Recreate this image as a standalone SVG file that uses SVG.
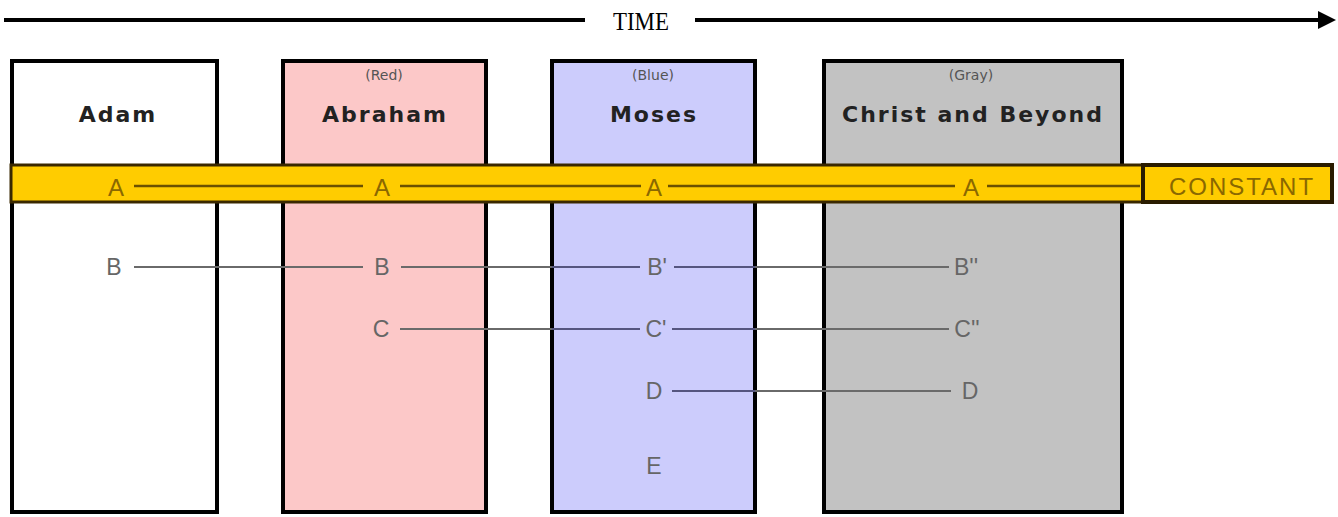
<svg xmlns="http://www.w3.org/2000/svg" width="1338" height="517" viewBox="0 0 1338 517">
<style>
.box{stroke:#000;stroke-width:4}
.title{font-family:"DejaVu Sans",Verdana,sans-serif;font-weight:bold;font-size:22px;fill:#222;text-anchor:middle;letter-spacing:2px}
.sub{font-family:"DejaVu Sans",Verdana,sans-serif;font-size:14px;fill:#555;text-anchor:middle}
.lbl{font-family:"Liberation Sans",Arial,sans-serif;font-size:23px;fill:#666;text-anchor:middle;dominant-baseline:central}
.albl{font-family:"Liberation Sans",Arial,sans-serif;font-size:24px;fill:#8a6800;text-anchor:middle;dominant-baseline:central}
.conn{stroke:#6a6a6a;stroke-width:2;fill:none}
.bconn{stroke:#55557f;stroke-width:2;fill:none}
.aconn{stroke:#6b5000;stroke-width:2.5;fill:none}
</style>
<g id="time">
<line x1="4" y1="20" x2="585" y2="20" stroke="#000" stroke-width="4"/>
<line x1="695" y1="20" x2="1324" y2="20" stroke="#000" stroke-width="4"/>
<path d="M1318,11 L1336,20 L1318,29 z" fill="#000"/>
<text x="641" y="30" font-family="'Liberation Serif','Times New Roman',serif" font-size="25" text-anchor="middle" fill="#000" textLength="56" lengthAdjust="spacingAndGlyphs">TIME</text>
</g>
<g id="adam"><rect class="box" x="12" y="61" width="205" height="451" fill="#fff"/>
<text class="title" x="118" y="122">Adam</text></g>
<g id="abraham"><rect class="box" x="283" y="61" width="203" height="451" fill="#fcc8c8"/>
<text class="sub" x="384" y="80">(Red)</text>
<text class="title" x="385" y="122">Abraham</text></g>
<g id="moses"><rect class="box" x="552" y="61" width="203" height="451" fill="#ccccfc"/>
<text class="sub" x="653" y="80">(Blue)</text>
<text class="title" x="654" y="122">Moses</text></g>
<g id="christ"><rect class="box" x="824" y="61" width="298" height="451" fill="#c2c2c2"/>
<text class="sub" x="971" y="80">(Gray)</text>
<text class="title" x="973" y="122">Christ and Beyond</text></g>
<g id="constant-band"><rect x="11" y="165" width="1132" height="37" fill="#ffcc00" stroke="#3a2800" stroke-width="3"/>
<rect x="1143" y="165" width="189" height="37" fill="#ffcc00" stroke="#2a1c00" stroke-width="4"/>
<text class="albl" x="1242" y="186" font-size="27" letter-spacing="2">CONSTANT</text></g>
<g id="connectors">
<path class="aconn" d="M134,186 H363 M400,186 H641 M668,186 H955 M987,186 H1140"/>
<path class="conn" d="M134,267 H363 M401,267 H552 M755,267 H949"/>
<path class="bconn" d="M552,267 H640 M674,267 H755"/>
<path class="conn" d="M400,329 H552 M755,329 H949"/>
<path class="bconn" d="M552,329 H640 M672,329 H755"/>
<path class="bconn" d="M672,391 H755"/>
<path class="conn" d="M755,391 H951"/>
</g>
<g id="labels">
<text class="albl" x="116" y="187">A</text>
<text class="albl" x="382" y="187">A</text>
<text class="albl" x="654" y="187">A</text>
<text class="albl" x="971" y="187">A</text>
<text class="lbl" x="114" y="267">B</text>
<text class="lbl" x="382" y="267">B</text>
<text class="lbl" x="657" y="267">B'</text>
<text class="lbl" x="966" y="267">B''</text>
<text class="lbl" x="381" y="329">C</text>
<text class="lbl" x="656" y="329">C'</text>
<text class="lbl" x="967" y="329">C''</text>
<text class="lbl" x="654" y="391">D</text>
<text class="lbl" x="970" y="391">D</text>
<text class="lbl" x="654" y="466">E</text>
</g>
</svg>
